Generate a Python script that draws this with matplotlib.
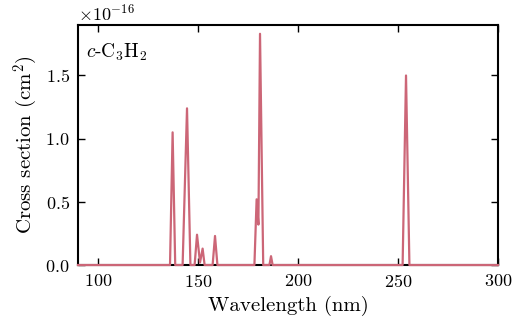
import numpy as np
import matplotlib
matplotlib.use('Agg')
import matplotlib.pyplot as plt

plt.rcParams['font.family'] = 'serif'
plt.rcParams['font.serif'] = ['cmr10', 'DejaVu Serif']
plt.rcParams['mathtext.fontset'] = 'cm'
plt.rcParams['axes.formatter.use_mathtext'] = True
plt.rcParams['axes.unicode_minus'] = True

# c-C3H2 absorption cross section, values in units of 1e-16 cm^2
wavelength = [90.0, 136.0, 137.3, 138.6,
              142.3, 144.5, 146.2,
              148.3, 149.5, 151.0, 152.3, 153.3,
              157.3, 158.5, 159.7,
              178.2, 179.3, 180.2, 181.0, 182.6,
              185.7, 186.5, 187.3,
              252.3, 254.0, 255.7, 300.0]
cross_section = [0.0, 0.0, 1.05, 0.0,
                 0.0, 1.24, 0.0,
                 0.0, 0.24, 0.02, 0.13, 0.0,
                 0.0, 0.23, 0.0,
                 0.0, 0.52, 0.32, 1.83, 0.0,
                 0.0, 0.07, 0.0,
                 0.0, 1.50, 0.0, 0.0]

wl = np.array(wavelength)
xs = np.array(cross_section) * 1e-16

fig = plt.figure(figsize=(5.25, 3.24), dpi=100)
ax = fig.add_axes([0.1486, 0.182, 0.80, 0.741])
ax.plot(wl, xs, color='#cc6677', lw=1.6, zorder=3, clip_on=False)

ax.set_xlim(90, 300)
ax.set_ylim(0, 1.9e-16)
ax.set_xticks([100, 150, 200, 250, 300])
ax.set_yticks([0, 0.5e-16, 1.0e-16, 1.5e-16])
ax.tick_params(direction='in', top=True, right=True, length=5, width=1,
               labelsize=13, pad=6)
for sp in ax.spines.values():
  sp.set_linewidth(1.5)
ax.yaxis.get_offset_text().set_fontsize(13)

ax.set_xlabel('Wavelength (nm)', fontsize=15, labelpad=4)
ax.set_ylabel('Cross section (cm$^2$)', fontsize=15)
ax.text(0.02, 0.93, '$c$-C$_3$H$_2$', transform=ax.transAxes, fontsize=14,
        va='top', ha='left')

fig.savefig('out.png', dpi=100)
